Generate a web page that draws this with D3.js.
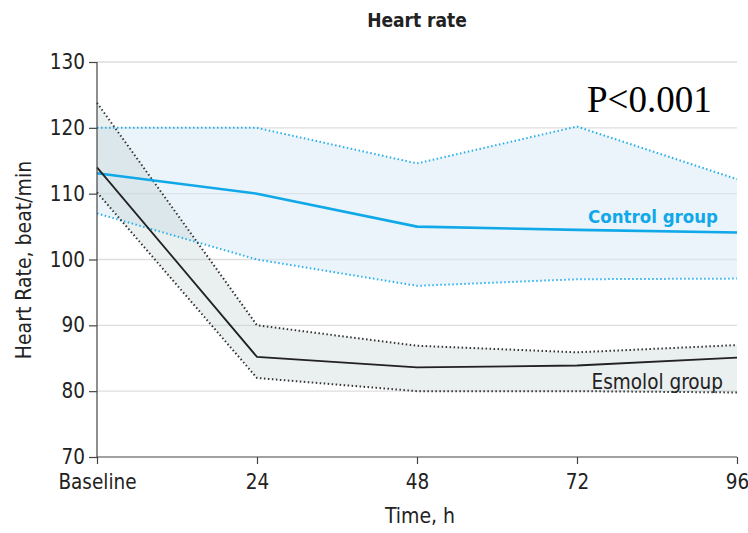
<!DOCTYPE html>
<html><head><meta charset="utf-8">
<script src="https://cdn.jsdelivr.net/npm/d3@7"></script>
<style>
body{margin:0;background:#fff;}
svg text{font-family:"DejaVu Sans Condensed","Roboto",sans-serif;}
</style></head>
<body><svg id="c" width="748" height="533"></svg>
<script>
const timeLabels = ["Baseline","24","48","72","96"];
const timeValues = [0,24,48,72,96];
const yTicks = [70,80,90,100,110,120,130];
const controlMean  = [113.1,110,105,104.5,104.1];
const controlUpper = [120,120,114.6,120.2,112.2];
const controlLower = [107,100,96,97,97.1];
const esmololMean  = [114,85.2,83.6,83.9,85.1];
const esmololUpper = [123.8,90,86.9,85.9,87];
const esmololLower = [110.2,82,80,80,79.8];

const svg = d3.select("#c");
const m = {l:97, r:737, t:62, b:457};
const x = d3.scaleLinear().domain([0,96]).range([m.l,m.r]);
const y = d3.scaleLinear().domain([70,130]).range([m.b,m.t]);

// grid
svg.append("g").selectAll("line").data(yTicks.filter(d=>d>70)).join("line")
  .attr("x1",m.l).attr("x2",m.r).attr("y1",d=>y(d)).attr("y2",d=>y(d))
  .attr("stroke","#dedede").attr("stroke-width",1.4);

function band(up,lo){
  return d3.area().x((d,i)=>x(timeValues[i])).y0((d,i)=>y(lo[i])).y1(d=>y(d))(up);
}
const line = arr => d3.line().x((d,i)=>x(timeValues[i])).y(d=>y(d))(arr);

svg.append("path").attr("d",band(controlUpper,controlLower)).attr("fill","#d6eaf6").attr("fill-opacity",0.5);
svg.append("path").attr("d",band(esmololUpper,esmololLower)).attr("fill","#b8c9c9").attr("fill-opacity",0.3);

// dotted bounds
[controlUpper,controlLower].forEach(a=>svg.append("path").attr("d",line(a)).attr("fill","none")
  .attr("stroke","#29b0ea").attr("stroke-width",2).attr("stroke-dasharray","1.5,2.5"));
[esmololUpper,esmololLower].forEach(a=>svg.append("path").attr("d",line(a)).attr("fill","none")
  .attr("stroke","#333").attr("stroke-width",2).attr("stroke-dasharray","1.5,2.5"));

svg.append("path").attr("d",line(controlMean)).attr("fill","none").attr("stroke","#10a8e8").attr("stroke-width",2.6);
svg.append("path").attr("d",line(esmololMean)).attr("fill","none").attr("stroke","#222").attr("stroke-width",1.8);

// axes
const ya = svg.append("g").attr("transform",`translate(${m.l},0)`)
  .call(d3.axisLeft(y).tickValues(yTicks).tickSize(8).tickPadding(4));
const xa = svg.append("g").attr("transform",`translate(0,${m.b})`)
  .call(d3.axisBottom(x).tickValues(timeValues).tickFormat((d,i)=>timeLabels[i]).tickSize(7));
[ya,xa].forEach(g=>{
  g.select(".domain").attr("stroke","#444").attr("stroke-width",1.2);
  g.selectAll(".tick line").attr("stroke","#444").attr("stroke-width",1.2);
  g.selectAll(".tick text").attr("fill","#222").style("font-size","20.5px");
});
xa.select(".domain").attr("d",`M${m.l},0H${m.r}`);
ya.select(".domain").attr("d",`M0,${m.t}V${m.b}`);
xa.selectAll(".tick text").attr("y",32).attr("dy",0);

// titles
svg.append("text").attr("x",417).attr("y",27).attr("text-anchor","middle")
  .style("font-size","19px").style("font-weight","bold").attr("fill","#222").text("Heart rate");
svg.append("text").attr("transform","translate(31,260) rotate(-90)").attr("text-anchor","middle")
  .style("font-size","21px").attr("fill","#222").text("Heart Rate, beat/min");
svg.append("text").attr("x",420).attr("y",523).attr("text-anchor","middle")
  .style("font-size","21px").attr("fill","#222").text("Time, h");

svg.append("text").attr("x",718).attr("y",223).attr("text-anchor","end")
  .style("font-size","18.5px").style("font-weight","bold").attr("fill","#10a8e8").text("Control group");
svg.append("text").attr("x",723).attr("y",389).attr("text-anchor","end")
  .style("font-size","20.5px").attr("fill","#222").text("Esmolol group");
svg.append("text").attr("x",587).attr("y",112)
  .style("font-family","'Liberation Serif','Times New Roman',serif").style("font-size","37px").attr("fill","#000").text("P<0.001");
</script></body></html>
